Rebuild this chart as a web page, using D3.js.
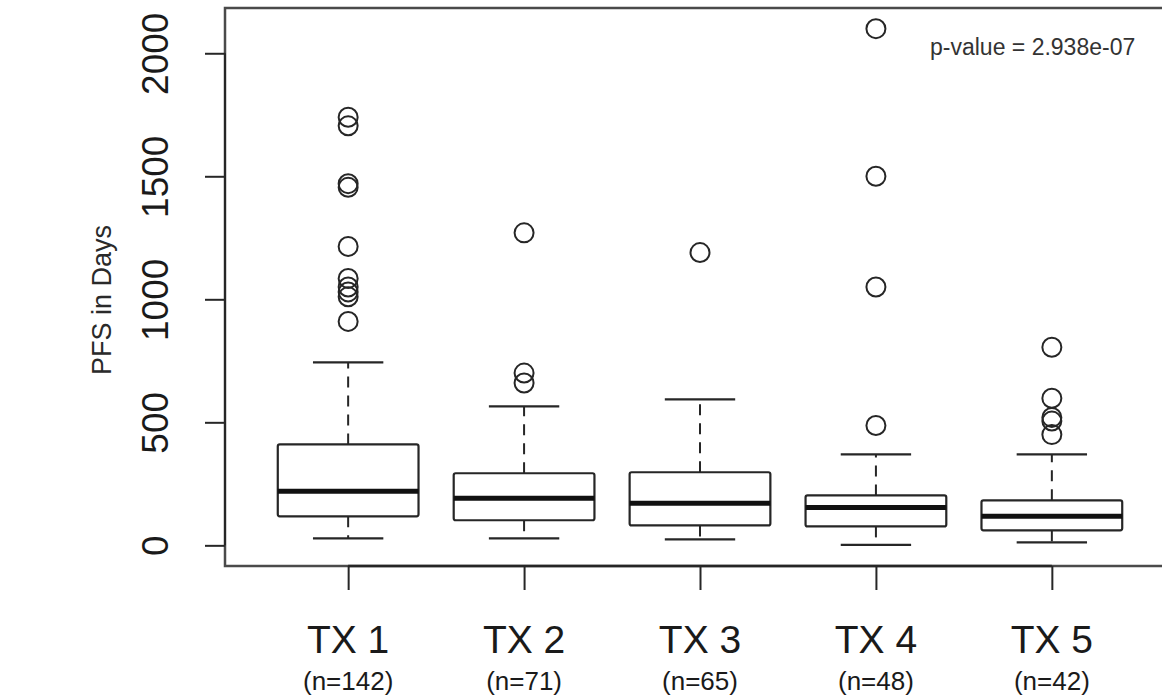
<!DOCTYPE html>
<html>
<head>
<meta charset="utf-8">
<script src="https://cdn.jsdelivr.net/npm/d3@7"></script>
<style>
  body { margin: 0; background: #fff; }
  svg { display: block; font-family: "Liberation Sans", Arial, sans-serif; }
</style>
</head>
<body>
<svg width="1162" height="696"></svg>
<script>
// values
const groups = ["TX 1", "TX 2", "TX 3", "TX 4", "TX 5"];
const counts = [142, 71, 65, 48, 42];
const whiskLo = [28, 28, 24, 2, 12];
const q1 = [118, 102, 81, 77, 61];
const medians = [220, 191, 171, 154, 118];
const q3 = [410, 293, 297, 203, 183];
const whiskHi = [744, 565, 593, 370, 370];
const outliers = [
    [1740, 1705, 1470, 1455, 1215, 1085, 1050, 1030, 1010, 910],
    [1270, 700, 660],
    [1190],
    [2100, 1500, 1050, 487],
    [805, 598, 520, 505, 450]
];
const yTicks = [0, 500, 1000, 1500, 2000];
const pValue = "p-value = 2.938e-07";

const svg = d3.select("svg");
const ink = "#262626";

// R style: range of data, padded 4% each side
const allVals = [...whiskLo, ...whiskHi, ...outliers.flat()];
const [lo, hi] = d3.extent(allVals.concat([0]));
const pad = (hi - lo) * 0.04;

const x = d3.scaleLinear()
    .domain([0.3, groups.length + 0.7])
    .range([225, 1175]);

const y = d3.scaleLinear()
    .domain([lo - pad, hi + pad])
    .range([566, 8]);

const boxes = groups.map((g, i) => ({
    name: g, n: counts[i], pos: i + 1,
    lo: whiskLo[i], q1: q1[i], med: medians[i], q3: q3[i], hi: whiskHi[i],
    out: outliers[i]
}));

const halfW = x(1.4) - x(1);
const capW = x(1.2) - x(1);

// plot frame
svg.append("rect")
    .attr("x", x(0.3))
    .attr("y", y(hi + pad))
    .attr("width", x(groups.length + 0.7) - x(0.3))
    .attr("height", y(lo - pad) - y(hi + pad))
    .attr("fill", "none")
    .attr("stroke", "#4a4a4a")
    .attr("stroke-width", 2.5);

const g = svg.selectAll("g.box")
    .data(boxes)
    .enter()
    .append("g")
    .attr("class", "box");

// dashed whiskers
g.append("line")
    .attr("x1", d => x(d.pos)).attr("x2", d => x(d.pos))
    .attr("y1", d => y(d.q3)).attr("y2", d => y(d.hi))
    .attr("stroke", ink).attr("stroke-width", 2)
    .attr("stroke-dasharray", "11,8");
g.append("line")
    .attr("x1", d => x(d.pos)).attr("x2", d => x(d.pos))
    .attr("y1", d => y(d.q1)).attr("y2", d => y(d.lo))
    .attr("stroke", ink).attr("stroke-width", 2)
    .attr("stroke-dasharray", "11,8");

// staples
["lo", "hi"].forEach(k => {
    g.append("line")
        .attr("x1", d => x(d.pos) - capW).attr("x2", d => x(d.pos) + capW)
        .attr("y1", d => y(d[k])).attr("y2", d => y(d[k]))
        .attr("stroke", ink).attr("stroke-width", 2.2);
});

// box
g.append("rect")
    .attr("x", d => x(d.pos) - halfW)
    .attr("y", d => y(d.q3))
    .attr("width", halfW * 2)
    .attr("height", d => y(d.q1) - y(d.q3))
    .attr("rx", 2)
    .attr("fill", "#fff")
    .attr("stroke", ink)
    .attr("stroke-width", 2.2);

// median
g.append("line")
    .attr("x1", d => x(d.pos) - halfW).attr("x2", d => x(d.pos) + halfW)
    .attr("y1", d => y(d.med)).attr("y2", d => y(d.med))
    .attr("stroke", "#111").attr("stroke-width", 5);

// outliers
g.selectAll("circle")
    .data(d => d.out.map(v => ({ pos: d.pos, v })))
    .enter()
    .append("circle")
    .attr("cx", d => x(d.pos))
    .attr("cy", d => y(d.v))
    .attr("r", 9.5)
    .attr("fill", "none")
    .attr("stroke", ink)
    .attr("stroke-width", 2);

// y axis
const yAxis = svg.append("g")
    .attr("transform", `translate(${x(0.3)},0)`)
    .call(d3.axisLeft(y).tickValues(yTicks).tickSize(20).tickSizeOuter(0).tickFormat(d3.format("d")));
yAxis.select(".domain").attr("stroke", ink).attr("stroke-width", 2)
    .attr("d", `M0,${y(yTicks[0])}V${y(yTicks[yTicks.length - 1])}`);
yAxis.selectAll(".tick line").attr("stroke", ink).attr("stroke-width", 2);
yAxis.selectAll(".tick text")
    .attr("x", null).attr("dy", null)
    .attr("transform", "translate(-57,0) rotate(-90)")
    .attr("text-anchor", "middle")
    .attr("fill", "#1a1a1a")
    .style("font-size", "37px")
    .style("font-family", "'Liberation Sans', Arial, sans-serif");

// x axis
const xAxis = svg.append("g")
    .attr("transform", `translate(0,${y(lo - pad)})`)
    .call(d3.axisBottom(x).tickValues(boxes.map(d => d.pos)).tickSize(24).tickSizeOuter(0).tickFormat(""));
xAxis.select(".domain").attr("stroke", ink).attr("stroke-width", 2.5)
    .attr("d", `M${x(1)},0H${x(groups.length)}`);
xAxis.selectAll(".tick line").attr("stroke", ink).attr("stroke-width", 2);

// group labels
svg.selectAll("text.grp")
    .data(boxes)
    .enter()
    .append("text")
    .attr("class", "grp")
    .attr("x", d => x(d.pos))
    .attr("y", 653)
    .attr("text-anchor", "middle")
    .attr("fill", "#1a1a1a")
    .style("font-size", "39px")
    .text(d => d.name);

svg.selectAll("text.cnt")
    .data(boxes)
    .enter()
    .append("text")
    .attr("class", "cnt")
    .attr("x", d => x(d.pos))
    .attr("y", 690)
    .attr("text-anchor", "middle")
    .attr("fill", "#1a1a1a")
    .style("font-size", "26px")
    .text(d => `(n=${d.n})`);

// axis title
svg.append("text")
    .attr("transform", "translate(111,300) rotate(-90)")
    .attr("text-anchor", "middle")
    .attr("fill", "#2a2a2a")
    .style("font-size", "27px")
    .text("PFS in Days");

// p-value note
svg.append("text")
    .attr("x", 930)
    .attr("y", 55)
    .attr("fill", "#333")
    .style("font-size", "23px")
    .text(pValue);
</script>
</body>
</html>
